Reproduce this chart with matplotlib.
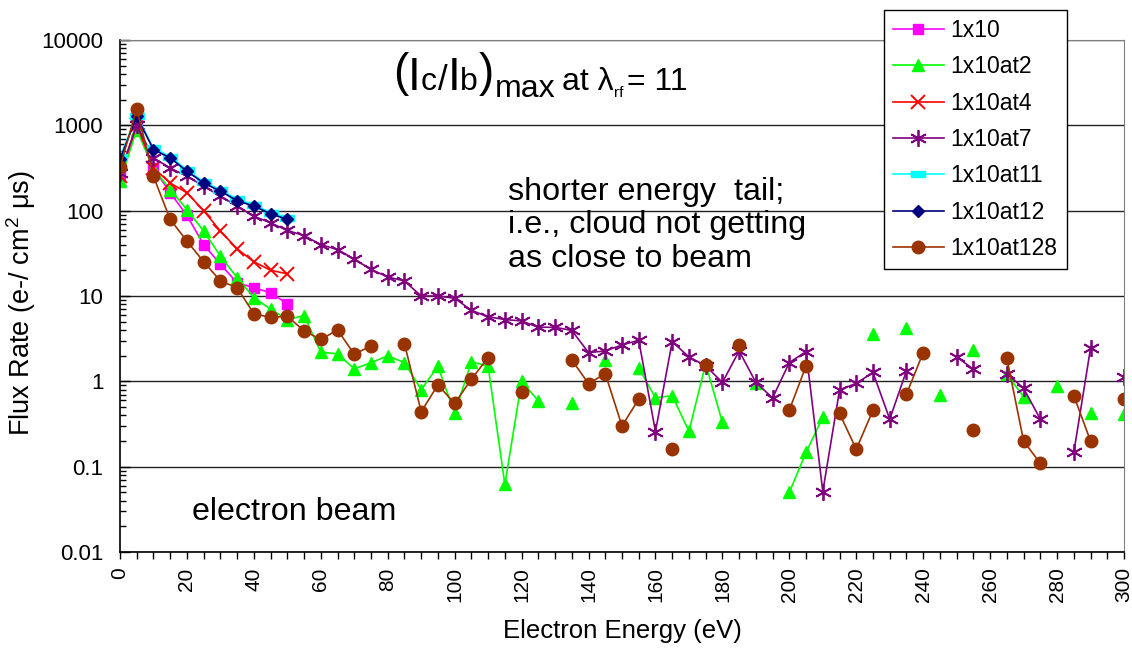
import matplotlib
matplotlib.use("Agg")
import matplotlib.pyplot as plt
import numpy as np
from matplotlib.ticker import MultipleLocator, LogLocator, NullFormatter, FixedLocator, FixedFormatter

nan = np.nan

plt.rcParams['font.family'] = ['Liberation Sans', 'DejaVu Sans']
plt.rcParams['mathtext.fontset'] = 'custom'
plt.rcParams['mathtext.rm'] = 'Liberation Sans'
plt.rcParams['mathtext.it'] = 'Liberation Sans'

# energy bins (eV)
energy_short = [0, 5, 10, 15, 20, 25, 30, 35, 40, 45, 50]
energy_long = list(range(0, 305, 5))

# short runs, 0-50 eV
flux_1x10 = [252, 1000, 316, 162, 88, 40, 23.5, 14.3, 12.5, 10.9, 8.1]
flux_at4 = [255, 1020, 316, 211, 162, 100, 57.6, 35.7, 25.2, 20, 18.2]
flux_at11 = [425, 1300, 540, 430, 300, 218, 175, 136, 117, 95, 82]
flux_at12 = [400, 1270, 520, 415, 290, 211, 169, 131, 113, 92, 79]

# long runs, 0-300 eV (nan = no data in that bin)
flux_at2 = [221, 890, 310, 177, 103, 57.6, 29.4, 16.4, 9.6, 7.0,
            5.3, 5.9, 2.2, 2.1, 1.4, 1.65, 2.0, 1.65, 0.8, 1.5,
            0.42, 1.7, 1.5, 0.062, 1.0, 0.59, nan, 0.56, nan, 1.77,
            nan, 1.43, 0.64, 0.68, 0.26, 1.6, 0.33, nan, 0.95, nan,
            0.05, 0.147, 0.38, nan, nan, 3.56, nan, 4.26, nan, 0.695,
            nan, 2.32, nan, 1.21, 0.66, nan, 0.886, nan, 0.43, nan,
            0.41]
flux_at7 = [280, 1000, 415, 316, 253, 194, 148, 113, 86, 72,
            58.6, 51, 40, 35, 27, 20.5, 16.7, 15.0, 10, 10,
            9.4, 6.8, 5.7, 5.3, 5.1, 4.3, 4.3, 3.95, 2.17, 2.27,
            2.67, 3.03, 0.258, 2.92, 1.93, 1.52, 0.97, 2.27, 0.97, 0.64,
            1.66, 2.23, 0.051, 0.79, 0.95, 1.27, 0.36, 1.33, nan, nan,
            1.93, 1.39, nan, 1.23, 0.83, 0.36, nan, 0.147, 2.44, nan,
            1.11]
flux_at128 = [323, 1570, 252, 79, 44, 25.2, 15, 12.5, 6.2, 5.6,
              5.8, 3.9, 3.1, 4.0, 2.08, 2.6, nan, 2.77, 0.44, 0.91,
              0.55, 1.06, 1.9, nan, 0.74, nan, nan, 1.78, 0.94, 1.23,
              0.30, 0.62, nan, 0.16, nan, 1.56, nan, 2.67, nan, nan,
              0.46, 1.52, nan, 0.42, 0.16, 0.46, nan, 0.71, 2.17, nan,
              nan, 0.27, nan, 1.87, 0.20, 0.109, nan, 0.68, 0.20, nan,
              0.62]

x_labels = [str(v) for v in range(0, 301, 20)]

# wide bar marker for the 1x10at11 run
bar_marker = [(-1, -0.45), (1, -0.45), (1, 0.45), (-1, 0.45), (-1, -0.45)]

W, H = 1132, 656
fig = plt.figure(figsize=(W / 100, H / 100), dpi=100)
ax = fig.add_axes([120 / W, 104 / H, 1004 / W, 512 / H])

lw = 1.2
ax.plot(energy_short, flux_1x10, color='#FF00FF', marker='s', ms=7, lw=lw, label='1x10')
ax.plot(energy_long, flux_at2, color='#00FF00', marker='^', ms=9, lw=lw, label='1x10at2')
ax.plot(energy_short, flux_at4, color='#FF0000', marker='x', ms=10, mew=1.4, lw=lw, label='1x10at4')
ax.plot(energy_long, flux_at7, color='#800080', marker=(6, 2, 0), ms=12, mew=1.3, lw=lw, label='1x10at7')
ax.plot(energy_short, flux_at11, color='#00FFFF', marker=bar_marker, ms=10, lw=lw, label='1x10at11')
ax.plot(energy_short, flux_at12, color='#000080', marker='D', ms=6.5, lw=lw, label='1x10at12')
ax.plot(energy_long, flux_at128, color='#993300', marker='o', ms=9, lw=lw, label='1x10at128')

ax.set_yscale('log')
ax.set_ylim(0.01, 10000)
ax.set_xlim(0, 300)

ax.yaxis.set_minor_locator(LogLocator(base=10, subs=np.arange(2, 10), numticks=20))
ax.yaxis.set_minor_formatter(NullFormatter())
ax.set_yticks([0.01, 0.1, 1, 10, 100, 1000, 10000])
ax.set_yticklabels(['0.01', '0.1', '1', '10', '100', '1000', '10000'])

ax.xaxis.set_major_locator(FixedLocator(range(0, 301, 20)))
ax.xaxis.set_major_formatter(FixedFormatter(x_labels))
ax.xaxis.set_minor_locator(MultipleLocator(5))

ax.tick_params(axis='y', which='major', direction='in', length=7, width=1, labelsize=16, pad=12)
ax.tick_params(axis='y', which='minor', direction='in', length=4, width=1)
ax.tick_params(axis='x', which='both', direction='out', length=5, width=1, labelsize=15, pad=6,
               labelrotation=90)

ax.grid(axis='y', which='major', color='#222222', lw=1)
for side in ('top', 'right'):
    ax.spines[side].set_color('#808080')
for side in ('left', 'bottom'):
    ax.spines[side].set_color('black')
    ax.spines[side].set_linewidth(1.2)

ax.set_xlabel('Electron Energy (eV)', fontsize=18.5, labelpad=12)
ax.set_ylabel(r'Flux Rate (e-/ cm$^{\mathrm{2}}$ $\mathrm{\mu}$s)', fontsize=19.5)
ax.yaxis.set_label_coords(-0.082, 0.486)

renderer = fig.canvas.get_renderer()


def fig_text(s, x, y, size):
    # place text by pixel position (from top-left) with baseline alignment
    return fig.text(x / W, 1 - y / H, s, fontsize=size, ha='left', va='baseline')


# (Ic/Ib)max at lambda_rf = 11, laid out piece by piece so the parentheses stay tall
title_parts = [
    ('(', 86, 33),
    ('I', 90, 33),
    ('c', 90, 23),
    ('/', 90, 25),
    ('I', 90, 33),
    ('b', 90, 23),
    (')', 86, 33),
    ('max', 97, 23),
    ('at λ', 90, 23),
    ('rf', 97, 11),
    ('= 11', 90, 23),
]
gaps = [0, 0, 1, 0, 0, 1, 0, 7, 0, 4, 0]
x_pos = 393
for (s, y, size), gap in zip(title_parts, gaps):
    t = fig_text(s, x_pos, y, size)
    x_pos = t.get_window_extent(renderer).x1 + gap

note_lines = ['shorter energy  tail;', 'i.e., cloud not getting', 'as close to beam']
for i, line in enumerate(note_lines):
    fig_text(line, 508, 200 + 33.5 * i, 23.2)

fig_text('electron beam', 192, 520, 23.2)

leg = ax.legend(loc='upper left', bbox_to_anchor=(884 / W, 1 - 10 / H),
                bbox_transform=fig.transFigure, borderaxespad=0, fontsize=16.5,
                frameon=True, fancybox=False, edgecolor='black', framealpha=1,
                handlelength=2.2, handletextpad=0.3, labelspacing=0.58, borderpad=0.4)
leg.get_frame().set_linewidth(1)

fig.savefig('out.png', dpi=100)
